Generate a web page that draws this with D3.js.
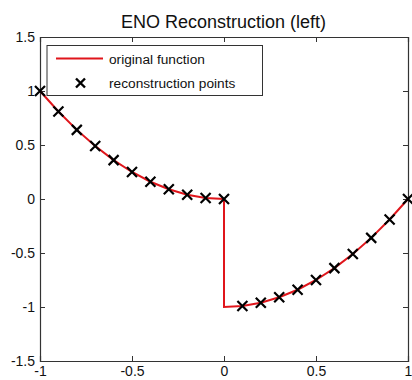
<html>
  <head>
    <meta charset="utf-8">
    <script src="https://cdn.jsdelivr.net/npm/d3@7"></script>
    <style>
      body { margin: 0; background: #fff; }
      text { font-family: "Liberation Sans", Arial, sans-serif; }
    </style>
  </head>
  <body>
<div id="chart"></div>
<script>

let width = 412;
let height = 380;
let margin = {top: 37, right: 3, bottom: 19, left: 40};

// original function, sampled (left branch, jump at 0, right branch)
let lineX = [-1, -0.9, -0.8, -0.7, -0.6, -0.5, -0.4, -0.3, -0.2, -0.1, 0,
             0, 0.1, 0.2, 0.3, 0.4, 0.5, 0.6, 0.7, 0.8, 0.9, 1];
let lineY = [1, 0.81, 0.64, 0.49, 0.36, 0.25, 0.16, 0.09, 0.04, 0.01, 0,
             -1, -0.99, -0.96, -0.91, -0.84, -0.75, -0.64, -0.51, -0.36, -0.19, 0];

// reconstruction points
let pointX = [-1, -0.9, -0.8, -0.7, -0.6, -0.5, -0.4, -0.3, -0.2, -0.1, 0,
              0.1, 0.2, 0.3, 0.4, 0.5, 0.6, 0.7, 0.8, 0.9, 1];
let pointY = [1, 0.81, 0.64, 0.49, 0.36, 0.25, 0.16, 0.09, 0.04, 0.01, 0,
              -0.99, -0.96, -0.91, -0.84, -0.75, -0.64, -0.51, -0.36, -0.19, 0];

let xTicks = [-1, -0.5, 0, 0.5, 1];
let yTicks = [-1.5, -1, -0.5, 0, 0.5, 1, 1.5];

let x = d3.scaleLinear()
    .domain([-1, 1])
    .range([margin.left, width - margin.right - 1]);

let y = d3.scaleLinear()
    .domain([-1.5, 1.5])
    .range([height - margin.bottom, margin.top]);

let svg = d3.select('#chart')
    .append('svg')
    .attr('width', width)
    .attr('height', height);

let fmt = d => String(d);

// axes, ticks inside, mirrored on top/right
svg.append('g')
    .attr('transform', 'translate(0,' + y(-1.5) + ')')
    .call(d3.axisBottom(x).tickValues(xTicks).tickSize(-5).tickPadding(5).tickFormat(fmt));
svg.append('g')
    .attr('transform', 'translate(0,' + y(1.5) + ')')
    .call(d3.axisTop(x).tickValues(xTicks).tickSize(-5).tickFormat(''));
svg.append('g')
    .attr('transform', 'translate(' + x(-1) + ',0)')
    .call(d3.axisLeft(y).tickValues(yTicks).tickSize(-5).tickPadding(5).tickFormat(fmt));
svg.append('g')
    .attr('transform', 'translate(' + x(1) + ',0)')
    .call(d3.axisRight(y).tickValues(yTicks).tickSize(-5).tickFormat(''));

svg.selectAll('.domain').attr('stroke', '#333').attr('stroke-width', 1.2);
svg.selectAll('.tick line').attr('stroke', '#333');
svg.selectAll('.tick text')
    .attr('font-size', 14)
    .attr('fill', '#111')
    .style('font-family', '"Liberation Sans", Arial, sans-serif');

// title
svg.append('text')
    .attr('x', 223.5)
    .attr('y', 27.5)
    .attr('text-anchor', 'middle')
    .attr('font-size', 18)
    .attr('fill', '#111')
    .text('ENO Reconstruction (left)');

let plotArea = svg.append('g');

let lineData = lineX.map((d, i) => [d, lineY[i]]);
plotArea.append('path')
    .datum(lineData)
    .attr('fill', 'none')
    .attr('stroke', '#e0151b')
    .attr('stroke-width', 2)
    .attr('d', d3.line().x(d => x(d[0])).y(d => y(d[1])));

let crossPath = 'M-5,-5L5,5M-5,5L5,-5';
plotArea.selectAll('.pt')
    .data(pointX.map((d, i) => [d, pointY[i]]))
    .enter()
    .append('path')
    .attr('class', 'pt')
    .attr('transform', d => 'translate(' + x(d[0]) + ',' + y(d[1]) + ')')
    .attr('d', crossPath)
    .attr('stroke', '#000')
    .attr('stroke-width', 2.2);

// legend
let legend = svg.append('g').attr('transform', 'translate(47,45.5)');
legend.append('rect')
    .attr('width', 215.5)
    .attr('height', 50)
    .attr('fill', '#fff')
    .attr('stroke', '#333')
    .attr('stroke-width', 1);
legend.append('line')
    .attr('x1', 9).attr('x2', 56)
    .attr('y1', 13).attr('y2', 13)
    .attr('stroke', '#e0151b')
    .attr('stroke-width', 2);
legend.append('path')
    .attr('transform', 'translate(33.5,37.5)')
    .attr('d', 'M-4.5,-4.5L4.5,4.5M-4.5,4.5L4.5,-4.5')
    .attr('stroke', '#000')
    .attr('stroke-width', 2.4);
legend.append('text')
    .attr('x', 62).attr('y', 18.5)
    .attr('font-size', 13.7)
    .attr('fill', '#111')
    .text('original function');
legend.append('text')
    .attr('x', 62).attr('y', 42.5)
    .attr('font-size', 13.7)
    .attr('fill', '#111')
    .text('reconstruction points');

</script>
  </body>
</html>
